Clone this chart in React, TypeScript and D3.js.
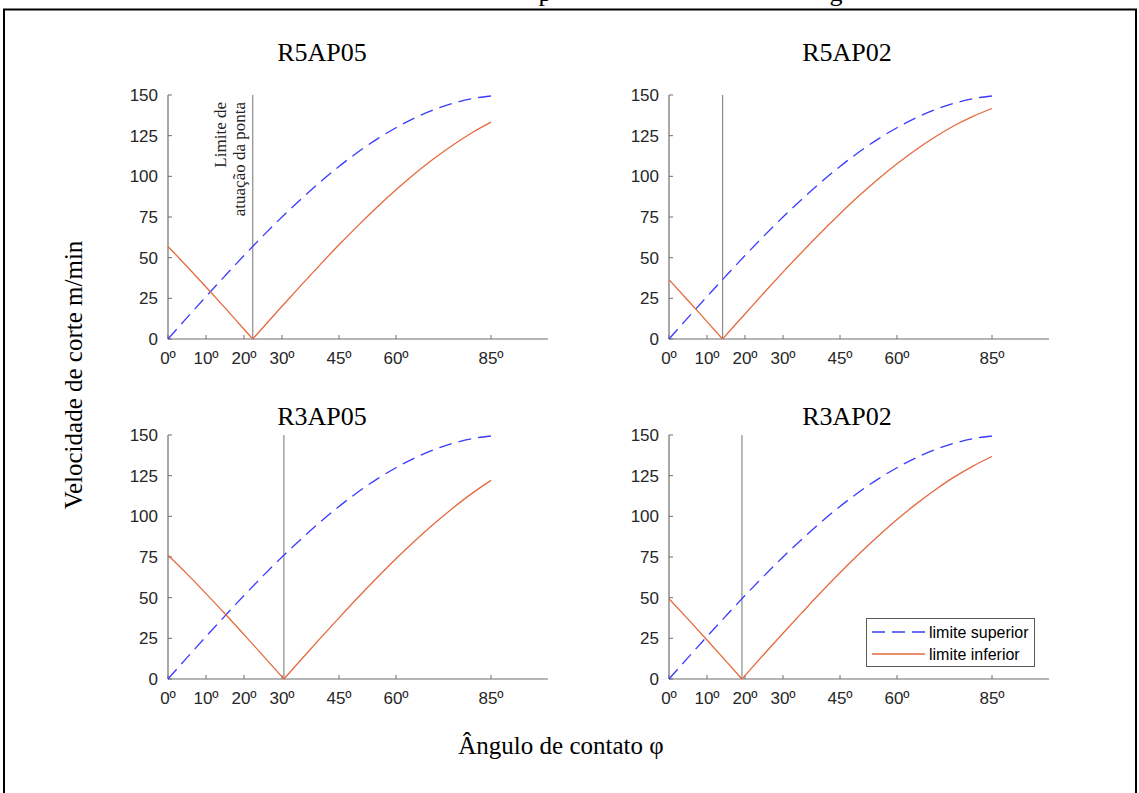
import React from "react";
import * as d3 from "d3";

// Angles (degrees) at which the curves were read
const angles = [0, 5, 10, 15, 20, 25, 30, 35, 40, 45, 50, 55, 60, 65, 70, 75, 80, 85];

// Upper limit (same in all panels)
const upperValues = [0, 13.1, 26.1, 38.8, 51.3, 63.4, 75, 86, 96.4, 106.1, 114.9, 122.9, 129.9, 136, 141, 144.9, 147.7, 149.4];

// Lower limit per panel
const r5ap05Angles = [0, 5, 10, 15, 20, 22.3, 25, 30, 35, 40, 45, 50, 55, 60, 65, 70, 75, 80, 85];
const r5ap05Lower = [56.9, 44.6, 32.0, 19.1, 6.0, 0, 7.1, 20.1, 33.0, 45.6, 57.9, 69.7, 81.0, 91.7, 101.7, 110.9, 119.3, 126.8, 133.3];

const r5ap02Angles = [0, 5, 10, 14.1, 15, 20, 25, 30, 35, 40, 45, 50, 55, 60, 65, 70, 75, 80, 85];
const r5ap02Lower = [36.5, 23.7, 10.7, 0, 2.4, 15.4, 28.4, 41.1, 53.5, 65.5, 77.0, 88.0, 98.2, 107.7, 116.4, 124.2, 131.1, 136.9, 141.7];

const r3ap05Angles = [0, 5, 10, 15, 20, 25, 30, 30.5, 35, 40, 45, 50, 55, 60, 65, 70, 75, 80, 85];
const r3ap05Lower = [76.1, 64.6, 52.5, 40.1, 27.3, 14.4, 1.3, 0, 11.8, 24.8, 37.6, 50.1, 62.2, 73.9, 85.0, 95.4, 105.1, 114.1, 122.1];

const r3ap02Angles = [0, 5, 10, 15, 19.2, 20, 25, 30, 35, 40, 45, 50, 55, 60, 65, 70, 75, 80, 85];
const r3ap02Lower = [49.3, 36.8, 24.0, 11.0, 0, 2.1, 15.2, 28.1, 40.8, 53.3, 65.3, 76.8, 87.7, 98.0, 107.5, 116.2, 124.1, 130.9, 136.8];

const panelTitles = ["R5AP05", "R5AP02", "R3AP05", "R3AP02"];
const tipLimits = [22.3, 14.1, 30.5, 19.2];

const xTicks = [0, 10, 20, 30, 45, 60, 85];
const yTicks = [0, 25, 50, 75, 100, 125, 150];

const legendLabels = ["limite superior", "limite inferior"];

const UPPER_COLOR = "#3a3aff";
const LOWER_COLOR = "#e56a3e";
const AXIS_COLOR = "#6e6e6e";
const TICK_TEXT = "#262626";
const SANS = "'Liberation Sans', Arial, Helvetica, sans-serif";
const SERIF = "'Liberation Serif', 'Times New Roman', serif";

type PanelProps = {
  x0: number;
  yTop: number;
  yBot: number;
  title: string;
  titleX: number;
  titleY: number;
  lowerAngles: number[];
  lowerVals: number[];
  tipLimit: number;
  annotate?: boolean;
  legend?: boolean;
};

function Panel(p: PanelProps) {
  const x = d3.scaleLinear().domain([0, 100]).range([p.x0, p.x0 + 380]);
  const y = d3.scaleLinear().domain([0, 150]).range([p.yBot, p.yTop]);
  const line = d3
    .line<[number, number]>()
    .x((d) => x(d[0]))
    .y((d) => y(d[1]))
    .curve(d3.curveMonotoneX);
  const upperPts: [number, number][] = angles.map((a, i) => [a, upperValues[i]]);
  const lowerPts: [number, number][] = p.lowerAngles.map((a, i) => [a, p.lowerVals[i]]);
  const k = p.lowerVals.indexOf(0);
  const lowerLeft = lowerPts.slice(0, k + 1);
  const lowerRight = lowerPts.slice(k);
  const xr = x.range();
  const lx = x(p.tipLimit);
  return (
    <g>
      <text x={p.titleX} y={p.titleY} textAnchor="middle" fontFamily={SERIF} fontSize={26} fill="#000">
        {p.title}
      </text>
      {/* axes */}
      <line x1={xr[0]} x2={xr[1]} y1={p.yBot} y2={p.yBot} stroke={AXIS_COLOR} strokeWidth={1.2} />
      <line x1={xr[0]} x2={xr[0]} y1={p.yBot} y2={p.yTop} stroke={AXIS_COLOR} strokeWidth={1.2} />
      {xTicks.map((t) => (
        <g key={"xt" + t}>
          <line x1={x(t)} x2={x(t)} y1={p.yBot} y2={p.yBot - 4} stroke={AXIS_COLOR} strokeWidth={1} />
          <text x={x(t)} y={p.yBot + 25} textAnchor="middle" fontFamily={SANS} fontSize={17} fill={TICK_TEXT}>
            {t + "º"}
          </text>
        </g>
      ))}
      {yTicks.map((t) => (
        <g key={"yt" + t}>
          <line x1={xr[0]} x2={xr[0] + 4} y1={y(t)} y2={y(t)} stroke={AXIS_COLOR} strokeWidth={1} />
          <text x={xr[0] - 10} y={y(t) + 6} textAnchor="end" fontFamily={SANS} fontSize={17} fill={TICK_TEXT}>
            {t}
          </text>
        </g>
      ))}
      {/* tip limit line */}
      <line x1={lx} x2={lx} y1={p.yBot} y2={p.yTop} stroke="#8a8a8a" strokeWidth={1.2} />
      {p.annotate && (
        <g fontFamily={SERIF} fontSize={17} fill="#222">
          <text transform={`translate(${lx - 27},${p.yTop + 7}) rotate(-90)`} textAnchor="end">
            Limite de
          </text>
          <text transform={`translate(${lx - 8},${p.yTop + 7}) rotate(-90)`} textAnchor="end">
            atuação da ponta
          </text>
        </g>
      )}
      <path d={line(upperPts) || ""} fill="none" stroke={UPPER_COLOR} strokeWidth={1.3} strokeDasharray="13,7" />
      <path d={line(lowerLeft) || ""} fill="none" stroke={LOWER_COLOR} strokeWidth={1.3} />
      <path d={line(lowerRight) || ""} fill="none" stroke={LOWER_COLOR} strokeWidth={1.3} />
      {p.legend && (
        <g>
          <rect x={866.5} y={618.5} width={168} height={48} fill="#fff" stroke="#5a5a5a" strokeWidth={1} />
          <line x1={872} x2={925} y1={632} y2={632} stroke={UPPER_COLOR} strokeWidth={1.3} strokeDasharray="13,7" />
          <line x1={872} x2={925} y1={654} y2={654} stroke={LOWER_COLOR} strokeWidth={1.3} />
          <text x={929} y={638} fontFamily={SANS} fontSize={16} fill="#000">
            {legendLabels[0]}
          </text>
          <text x={929} y={660} fontFamily={SANS} fontSize={16} fill="#000">
            {legendLabels[1]}
          </text>
        </g>
      )}
    </g>
  );
}

export default function App() {
  return (
    <svg
      width={1139}
      height={793}
      style={{ position: "absolute", left: 0, top: 0, background: "#fff" }}
    >
      <rect x={0} y={0} width={1139} height={793} fill="#fff" />
      {/* cut-off caption fragments */}
      <text x={545} y={1} textAnchor="middle" fontFamily={SERIF} fontSize={26} fill="#000">p</text>
      <text x={836} y={1} textAnchor="middle" fontFamily={SERIF} fontSize={26} fill="#000">g</text>
      {/* frame */}
      <path d="M4,805 L4,9.5 L1136,9.5 L1136,805" fill="none" stroke="#000" strokeWidth={2} />

      <Panel x0={168} yTop={95} yBot={339} title={panelTitles[0]} titleX={322} titleY={61}
        lowerAngles={r5ap05Angles} lowerVals={r5ap05Lower} tipLimit={tipLimits[0]} annotate />
      <Panel x0={669} yTop={95} yBot={339} title={panelTitles[1]} titleX={847} titleY={61}
        lowerAngles={r5ap02Angles} lowerVals={r5ap02Lower} tipLimit={tipLimits[1]} />
      <Panel x0={168} yTop={435} yBot={679} title={panelTitles[2]} titleX={322} titleY={425}
        lowerAngles={r3ap05Angles} lowerVals={r3ap05Lower} tipLimit={tipLimits[2]} />
      <Panel x0={669} yTop={435} yBot={679} title={panelTitles[3]} titleX={847} titleY={425}
        lowerAngles={r3ap02Angles} lowerVals={r3ap02Lower} tipLimit={tipLimits[3]} legend />

      <text transform="translate(82,375) rotate(-90)" textAnchor="middle" fontFamily={SERIF} fontSize={25} fill="#000">
        Velocidade de corte m/min
      </text>
      <text x={561} y={754} textAnchor="middle" fontFamily={SERIF} fontSize={25} fill="#000">
        Ângulo de contato φ
      </text>
    </svg>
  );
}
